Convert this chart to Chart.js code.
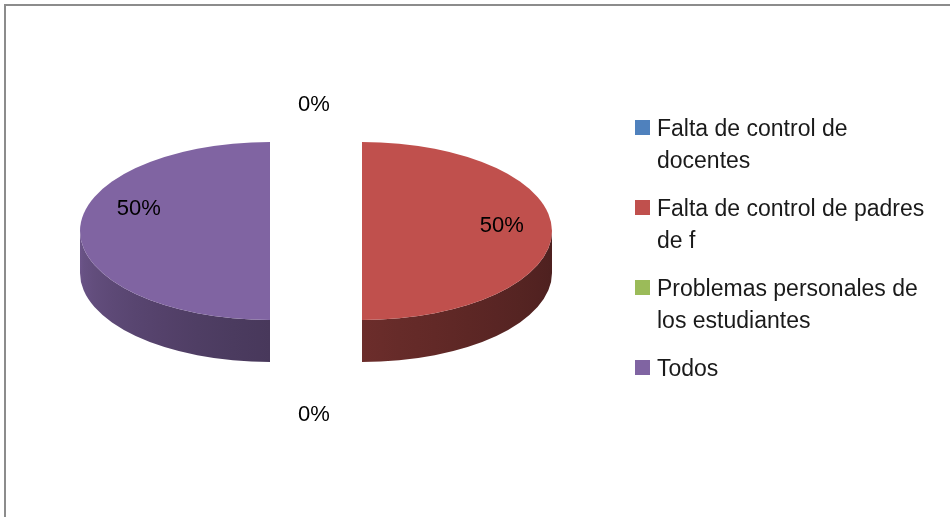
<!DOCTYPE html>
<html>
<head>
<meta charset="utf-8">
<script src="https://cdn.jsdelivr.net/npm/chart.js@4.4.1/dist/chart.umd.min.js"></script>
<style>
  html, body { margin: 0; padding: 0; background: #fff; overflow: hidden; }
  #wrap { position: relative; width: 950px; height: 517px; }
  #frame { position: absolute; left: 4px; top: 4px; width: 2000px; height: 2000px;
           border-left: 2px solid #8c8c8c; border-top: 2px solid #8c8c8c; }
  canvas { position: absolute; left: 0; top: 0; }
</style>
</head>
<body>
<div id="wrap">
  <div id="frame"></div>
  <canvas id="chart" width="950" height="517"></canvas>
</div>
<script>
// data
const labels = [
  "Falta de control de docentes",
  "Falta de control de padres de f",
  "Problemas personales de los estudiantes",
  "Todos"
];
const values = [0, 50, 0, 50];
const colors = ["#4f81bd", "#c0504d", "#9bbb59", "#8064a2"];

// look of the fake 3d pie
const TILT = 0.468;      // vertical squash of the pie
const DEPTH = 42;        // thickness in px
const EXPLODE = 46;      // px each slice is pulled out
const LABEL_RADIUS = 0.74;
const LABEL_TURN = [0, -6.5, 0, 21];
const LEGEND = { x: 635, top: 136, line: 31.5, gap: 17, wrap: 280 };

function shade(hex, f) {
  const n = parseInt(hex.slice(1), 16);
  const r = Math.round(((n >> 16) & 255) * f);
  const g = Math.round(((n >> 8) & 255) * f);
  const b = Math.round((n & 255) * f);
  return `rgb(${r},${g},${b})`;
}

// wall brightness depending on where the wall faces (0 = right, PI = left)
function wallLight(theta) {
  const t = theta / Math.PI;
  return 0.40 + 0.19 * t + 0.26 * t * t;
}

function pieCenter(chart) {
  const a = chart.chartArea;
  return { x: (a.left + a.right) / 2, y: (a.top + a.bottom) / 2 };
}

function drawWall(ctx, arc, color) {
  if (!arc.circumference) return;
  const cx = arc.x, cy = arc.y, r = arc.outerRadius;
  const d = DEPTH / TILT;
  for (let k = -1; k <= 1; k++) {
    const a0 = Math.max(arc.startAngle, 2 * Math.PI * k);
    const a1 = Math.min(arc.endAngle, 2 * Math.PI * k + Math.PI);
    if (a1 <= a0) continue;
    const xl = cx + r * Math.cos(a1);
    const xr = cx + r * Math.cos(a0);
    const grad = ctx.createLinearGradient(xl, 0, xr, 0);
    for (let s = 0; s <= 8; s++) {
      const th = a1 - (a1 - a0) * s / 8;
      const x = cx + r * Math.cos(th);
      const pos = xr > xl ? (x - xl) / (xr - xl) : 0;
      grad.addColorStop(Math.min(1, Math.max(0, pos)), shade(color, wallLight(th - 2 * Math.PI * k)));
    }
    ctx.beginPath();
    ctx.arc(cx, cy, r, a0, a1);
    ctx.lineTo(cx + r * Math.cos(a1), cy + r * Math.sin(a1) + d);
    ctx.arc(cx, cy + d, r, a1, a0, true);
    ctx.closePath();
    ctx.fillStyle = grad;
    ctx.fill();
  }
}

function wrapText(ctx, text, maxW) {
  const words = text.split(" ");
  const lines = [];
  let cur = "";
  words.forEach(w => {
    const test = cur ? cur + " " + w : w;
    if (cur && ctx.measureText(test).width > maxW) {
      lines.push(cur);
      cur = w;
    } else {
      cur = test;
    }
  });
  if (cur) lines.push(cur);
  return lines;
}

function drawLabels(chart) {
  const ctx = chart.ctx;
  const arcs = chart.getDatasetMeta(0).data;
  const c = pieCenter(chart);
  const total = values.reduce((a, b) => a + b, 0);
  const R = arcs[0].outerRadius;
  ctx.save();
  ctx.font = '22px "Liberation Sans", Arial, sans-serif';
  ctx.fillStyle = "#000";
  ctx.textAlign = "center";
  ctx.textBaseline = "alphabetic";
  arcs.forEach((arc, i) => {
    const txt = Math.round(values[i] / total * 100) + "%";
    const mid = (arc.startAngle + arc.endAngle) / 2;
    let x, y;
    if (arc.circumference) {
      const a = mid + LABEL_TURN[i] * Math.PI / 180;
      x = arc.x + Math.cos(a) * R * LABEL_RADIUS;
      y = c.y + (arc.y - c.y + Math.sin(a) * R * LABEL_RADIUS) * TILT;
    } else {
      const s = Math.sin(mid);
      x = c.x + Math.cos(mid) * R - 2;
      y = c.y + s * (R * TILT + 39 + (s > 0 ? DEPTH + 12 : 0));
    }
    ctx.fillText(txt, x, y + 8);
  });
  ctx.restore();
}

function drawLegend(chart) {
  const ctx = chart.ctx;
  const ds = chart.data.datasets[0];
  ctx.save();
  ctx.font = '23px "Liberation Sans", Arial, sans-serif';
  ctx.textAlign = "left";
  ctx.textBaseline = "alphabetic";
  let base = LEGEND.top;
  chart.data.labels.forEach((lab, i) => {
    const lines = wrapText(ctx, lab, LEGEND.wrap);
    ctx.fillStyle = ds.backgroundColor[i];
    ctx.fillRect(LEGEND.x, base - 16, 15, 15);
    ctx.fillStyle = "#1a1a1a";
    lines.forEach((ln, j) => ctx.fillText(ln, LEGEND.x + 22, base + j * LEGEND.line));
    base += lines.length * LEGEND.line + LEGEND.gap;
  });
  ctx.restore();
}

const pie3d = {
  id: "pie3d",
  afterDatasetUpdate(chart, args) {
    // pull every slice out along its middle angle
    const c = pieCenter(chart);
    args.meta.data.forEach(arc => {
      const mid = (arc.startAngle + arc.endAngle) / 2;
      const e = arc.circumference ? EXPLODE : 0;
      arc.x = c.x + Math.cos(mid) * e;
      arc.y = c.y + Math.sin(mid) * e;
    });
  },
  beforeDatasetsDraw(chart) {
    const ctx = chart.ctx;
    const arcs = chart.getDatasetMeta(0).data;
    const cy = pieCenter(chart).y;
    ctx.save();
    ctx.translate(0, cy);
    ctx.scale(1, TILT);
    ctx.translate(0, -cy);
    arcs.forEach((arc, i) => drawWall(ctx, arc, colors[i]));
  },
  afterDatasetsDraw(chart) {
    chart.ctx.restore();
    drawLabels(chart);
    drawLegend(chart);
  }
};

new Chart(document.getElementById("chart").getContext("2d"), {
  type: "pie",
  data: {
    labels: labels,
    datasets: [{
      data: values,
      backgroundColor: colors,
      borderWidth: 0,
      radius: 190,
      clip: false
    }]
  },
  options: {
    responsive: false,
    animation: false,
    events: [],
    layout: { padding: { left: 10, right: 328, top: 0, bottom: 55 } },
    plugins: {
      legend: { display: false },
      tooltip: { enabled: false }
    }
  },
  plugins: [pie3d]
});
</script>
</body>
</html>
